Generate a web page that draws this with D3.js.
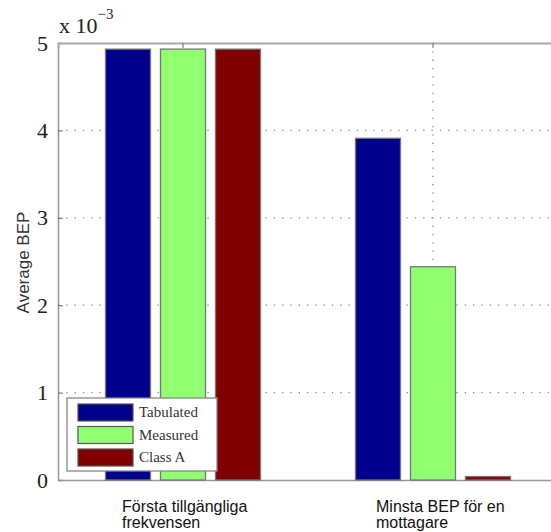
<!DOCTYPE html>
<html>
<head>
<meta charset='utf-8'>
<title>Average BEP</title>
<script src='https://cdn.jsdelivr.net/npm/d3@7'></script>
<style>
  body { margin: 0; background: #fff; }
</style>
</head>
<body>
<svg width='551' height='532'></svg>
<script>
// data
const categories = [['Första tillgängliga', 'frekvensen'], ['Minsta BEP för en', 'mottagare']]
const seriesNames = ['Tabulated', 'Measured', 'Class A']
const tabulated = [4.93e-3, 3.91e-3]
const measured = [4.93e-3, 2.44e-3]
const classA = [4.93e-3, 0.04e-3]
const yTicks = [0, 1e-3, 2e-3, 3e-3, 4e-3, 5e-3]

const colors = ['#00008c', '#90ff70', '#800000']
const svg = d3.select('svg')
const margin = { top: 43, left: 58 }
const plotW = 500, plotH = 437

const values = [tabulated, measured, classA]
const catIdx = categories.map((c, i) => i)

const x = d3.scaleBand().domain(catIdx).range([margin.left, margin.left + plotW])
// bars 45px wide with 10px gaps inside a 250px band
const xInner = d3.scaleBand().domain(seriesNames).range([0, x.bandwidth()])
  .paddingInner(10 / 55).paddingOuter(0.8636)
const y = d3.scaleLinear().domain([0, 5e-3]).range([margin.top + plotH, margin.top])

const gridColor = '#888'
// grid lines (dotted)
const grid = svg.append('g')
grid.selectAll('line.h').data(yTicks.slice(1, -1)).join('line')
  .attr('x1', margin.left).attr('x2', margin.left + plotW)
  .attr('y1', d => y(d)).attr('y2', d => y(d))
  .attr('stroke', gridColor).attr('stroke-width', 1.3).attr('stroke-dasharray', '1.3,7')
grid.selectAll('line.v').data(catIdx).join('line')
  .attr('x1', d => x(d) + x.bandwidth() / 2).attr('x2', d => x(d) + x.bandwidth() / 2)
  .attr('y1', y(5e-3)).attr('y2', y(0))
  .attr('stroke', gridColor).attr('stroke-width', 1.3).attr('stroke-dasharray', '1.3,7')

// axes frame
const yAxis = d3.axisLeft(y).tickValues(yTicks).tickSize(-5).tickPadding(10)
  .tickFormat(d => Math.round(d * 1000))
const gy = svg.append('g').attr('transform', `translate(${margin.left},0)`).call(yAxis)
gy.select('.domain').attr('stroke', '#999').attr('stroke-width', 1.5)
gy.selectAll('.tick line').attr('stroke', '#666')
gy.selectAll('.tick text').attr('font-family', 'Liberation Serif, Times New Roman, serif')
  .attr('font-size', 22).attr('fill', '#222')

const gx = svg.append('g').attr('transform', `translate(0,${y(0)})`)
  .call(d3.axisBottom(x).tickSize(0).tickFormat(''))
gx.select('.domain').attr('stroke', '#999').attr('stroke-width', 1.5)

const gt = svg.append('g').attr('transform', `translate(0,${margin.top})`)
  .call(d3.axisTop(x).tickSize(-5).tickFormat(''))
gt.select('.domain').attr('stroke', '#aaa').attr('stroke-width', 2)
gt.selectAll('.tick line').attr('stroke', '#666')

// bars
const groups = svg.append('g').selectAll('g').data(catIdx).join('g')
  .attr('transform', d => `translate(${x(d)},0)`)
groups.selectAll('rect').data(ci => seriesNames.map((s, si) => ({ s, si, v: values[si][ci] }))).join('rect')
  .attr('x', d => xInner(d.s))
  .attr('width', xInner.bandwidth())
  .attr('y', d => y(d.v))
  .attr('height', d => y(0) - y(d.v))
  .attr('fill', d => colors[d.si])
  .attr('stroke', '#777').attr('stroke-width', 1.3)

// exponent label
const expo = svg.append('text').attr('x', margin.left + 1).attr('y', 33)
  .attr('font-family', 'Liberation Serif, Times New Roman, serif').attr('font-size', 22).attr('fill', '#222')
expo.append('tspan').text('x 10')
expo.append('tspan').attr('dy', -14).attr('font-size', 15).text('\u22123')

// y label
svg.append('text')
  .attr('transform', `translate(29,${(y(0) + y(5e-3)) / 2 + 1}) rotate(-90)`)
  .attr('text-anchor', 'middle')
  .attr('font-family', 'Liberation Sans, Arial, sans-serif').attr('font-size', 17).attr('fill', '#333')
  .text('Average BEP')

// category labels, two lines left-aligned
const labelShift = [-61, -57]
svg.append('g').selectAll('text').data(catIdx).join('text')
  .attr('font-family', 'Liberation Sans, Arial, sans-serif').attr('font-size', 16).attr('fill', '#111')
  .each(function (ci) {
    const t = d3.select(this)
    categories[ci].forEach((line, li) => {
      t.append('tspan').attr('x', x(ci) + x.bandwidth() / 2 + labelShift[ci])
        .attr('y', 512 + li * 15.5).text(line)
    })
  })

// legend
const lg = svg.append('g').attr('transform', `translate(${margin.left + 9},${y(0) - 82})`)
lg.append('rect').attr('width', 150).attr('height', 73)
  .attr('fill', '#fff').attr('stroke', '#888').attr('stroke-width', 1.3)
const items = lg.selectAll('g').data(seriesNames).join('g')
  .attr('transform', (d, i) => `translate(11,${6 + i * 22.5})`)
items.append('rect').attr('width', 55).attr('height', 17)
  .attr('fill', (d, i) => colors[i]).attr('stroke', '#555').attr('stroke-width', 1.2)
items.append('text').attr('x', 61).attr('y', 13)
  .attr('font-family', 'Liberation Serif, Times New Roman, serif').attr('font-size', 15).attr('fill', '#333')
  .text(d => d)
</script>
</body>
</html>
